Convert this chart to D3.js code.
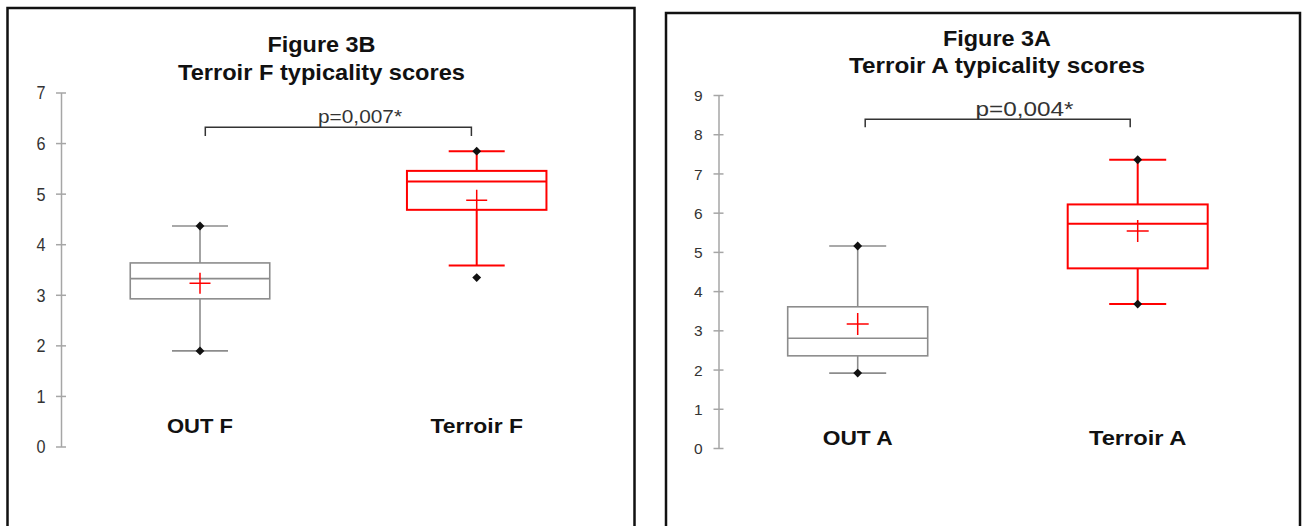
<!DOCTYPE html>
<html lang="en">
<head>
  <meta charset="UTF-8" />
  <title>Typicality scores box plots</title>
  <script src="https://d3js.org/d3.v7.min.js"></script>
  <style>
    body { margin: 0; overflow: hidden; background: #fff; }
    svg { display: block; background: #fff; }
    .frame { fill: none; stroke: #111; stroke-width: 2.5px; }
    .axis path, .axis line { stroke: #a6a6a6; stroke-width: 1.5px; }
    .axis text { fill: #333; font-family: "Liberation Sans", Arial, sans-serif; }
    .title { font-family: "Liberation Sans", Arial, sans-serif; font-weight: bold; font-size: 22px; fill: #111; }
    .cat { font-family: "Liberation Sans", Arial, sans-serif; font-weight: bold; font-size: 21px; fill: #111; }
    .pval { font-family: "Liberation Sans", Arial, sans-serif; fill: #333; }
    .bracket { fill: none; stroke: #333; stroke-width: 1.5px; }
  </style>
</head>
<body>
  <svg width="1304" height="526"></svg>
  <script>
    const width = 1304, height = 526;

    // --- Figure 3B (terroir F) ---
    const titleF = ["Figure 3B", "Terroir F typicality  scores"];
    const catsF = ["OUT F", "Terroir F"];
    // lower whisker, Q1, median, Q3, upper whisker
    const statsF = [[1.89, 2.92, 3.32, 3.63, 4.36], [3.58, 4.68, 5.24, 5.45, 5.84]];
    const meansF = [3.23, 4.87];
    // minimum and maximum (drawn as black diamonds)
    const extremesF = [[1.89, 4.36], [3.34, 5.84]];
    const ticksF = [0, 1, 2, 3, 4, 5, 6, 7];
    const pTextF = "p=0,007*";

    // --- Figure 3A (terroir A) ---
    const titleA = ["Figure 3A", "Terroir A typicality scores"];
    const catsA = ["OUT A", "Terroir A"];
    const statsA = [[1.91, 2.35, 2.80, 3.60, 5.15], [3.67, 4.58, 5.72, 6.21, 7.35]];
    const meansA = [3.16, 5.53];
    const extremesA = [[1.91, 5.15], [3.67, 7.35]];
    const ticksA = [0, 1, 2, 3, 4, 5, 6, 7, 8, 9];
    const pTextA = "p=0,004*";

    const boxColors = ["#8c8c8c", "#ff0000"];
    const boxWidths = [1.6, 2];

    const svg = d3.select("svg").attr("width", width).attr("height", height);

    // layout of each panel (pixels)
    const layoutF = {
      frame: [7.5, 8, 627, 540],
      axisX: 61, yRange: [446.5, 92.5],
      xRange: [200, 476.7], boxW: 139.5, capW: 56, cross: 21,
      tickSize: 18, tickSqueeze: 0.9, tickPad: 10.5,
      titleX: 321.5, titleY: [52, 80], titleLen: [108, 287],
      catY: 433, catLen: [66, 92.5],
      bracketInset: 5.3, bracketY: 127.3, bracketDrop: 8.7,
      pX: 360, pY: 123.3, pSize: 18, pLen: 84
    };
    const layoutA = {
      frame: [666, 13, 634, 540],
      axisX: 718.5, yRange: [448, 95],
      xRange: [857.7, 1137.7], boxW: 140, capW: 57, cross: 22,
      tickSize: 15.5, tickSqueeze: 1, tickPad: 11,
      titleX: 997, titleY: [46, 73], titleLen: [108, 296],
      catY: 445, catLen: [70, 97.5],
      bracketInset: 7.5, bracketY: 119.3, bracketDrop: 8,
      pX: 1024.5, pY: 116, pSize: 20.5, pLen: 98
    };

    function drawPanel(L, titles, cats, stats, means, extremes, ticks, pText) {
      const g = svg.append("g");

      g.append("rect").attr("class", "frame")
        .attr("x", L.frame[0]).attr("y", L.frame[1])
        .attr("width", L.frame[2]).attr("height", L.frame[3]);

      const y = d3.scaleLinear().domain([0, d3.max(ticks)]).range(L.yRange);
      const x = d3.scalePoint().domain(cats).range(L.xRange);

      // axis with ticks crossing the line
      const axis = g.append("g").attr("class", "axis")
        .attr("transform", `translate(${L.axisX},0)`)
        .call(d3.axisLeft(y).tickValues(ticks).tickFormat(d3.format("d"))
          .tickSizeInner(5).tickSizeOuter(0).tickPadding(L.tickPad));
      axis.selectAll(".tick line").attr("x1", 5);
      axis.selectAll(".tick text")
        .attr("font-size", L.tickSize)
        .attr("dy", "0.36em")
        .attr("transform", function () {
          const tx = +d3.select(this).attr("x");
          return `translate(${tx},0) scale(${L.tickSqueeze},1) translate(${-tx},0)`;
        });

      // titles
      titles.forEach((t, i) => {
        g.append("text").attr("class", "title")
          .attr("x", L.titleX).attr("y", L.titleY[i])
          .attr("text-anchor", "middle")
          .attr("textLength", L.titleLen[i]).attr("lengthAdjust", "spacingAndGlyphs")
          .text(t);
      });

      // category labels
      cats.forEach((c, i) => {
        g.append("text").attr("class", "cat")
          .attr("x", x(c)).attr("y", L.catY)
          .attr("text-anchor", "middle")
          .attr("textLength", L.catLen[i]).attr("lengthAdjust", "spacingAndGlyphs")
          .text(c);
      });

      // boxes
      cats.forEach((c, i) => {
        const [lo, q1, med, q3, hi] = stats[i];
        const cx = x(c), col = boxColors[i], sw = boxWidths[i];
        const bg = g.append("g").attr("stroke", col).attr("stroke-width", sw).attr("fill", "none");
        // whiskers
        bg.append("line").attr("x1", cx).attr("x2", cx).attr("y1", y(hi)).attr("y2", y(q3));
        bg.append("line").attr("x1", cx).attr("x2", cx).attr("y1", y(q1)).attr("y2", y(lo));
        [lo, hi].forEach(v => {
          bg.append("line").attr("x1", cx - L.capW / 2).attr("x2", cx + L.capW / 2)
            .attr("y1", y(v)).attr("y2", y(v));
        });
        bg.append("rect").attr("x", cx - L.boxW / 2).attr("y", y(q3))
          .attr("width", L.boxW).attr("height", y(q1) - y(q3));
        bg.append("line").attr("x1", cx - L.boxW / 2).attr("x2", cx + L.boxW / 2)
          .attr("y1", y(med)).attr("y2", y(med));

        // mean cross
        const my = y(means[i]), h = L.cross / 2;
        g.append("path").attr("stroke", "#ff0000").attr("stroke-width", 1.5).attr("fill", "none")
          .attr("d", `M${cx - h},${my}H${cx + h}M${cx},${my - h}V${my + h}`);

        // min / max diamonds
        extremes[i].forEach(v => {
          g.append("path")
            .attr("transform", `translate(${cx},${y(v)})`)
            .attr("d", d3.symbol(d3.symbolDiamond2, 50)())
            .attr("fill", "#111");
        });
      });

      // significance bracket
      const bx0 = x(cats[0]) + L.bracketInset, bx1 = x(cats[1]) - L.bracketInset;
      g.append("path").attr("class", "bracket")
        .attr("d", `M${bx0},${L.bracketY + L.bracketDrop}V${L.bracketY}H${bx1}V${L.bracketY + L.bracketDrop}`);
      g.append("text").attr("class", "pval")
        .attr("x", L.pX).attr("y", L.pY)
        .attr("text-anchor", "middle")
        .attr("font-size", L.pSize)
        .attr("textLength", L.pLen).attr("lengthAdjust", "spacingAndGlyphs")
        .text(pText);
    }

    drawPanel(layoutF, titleF, catsF, statsF, meansF, extremesF, ticksF, pTextF);
    drawPanel(layoutA, titleA, catsA, statsA, meansA, extremesA, ticksA, pTextA);
  </script>
</body>
</html>
